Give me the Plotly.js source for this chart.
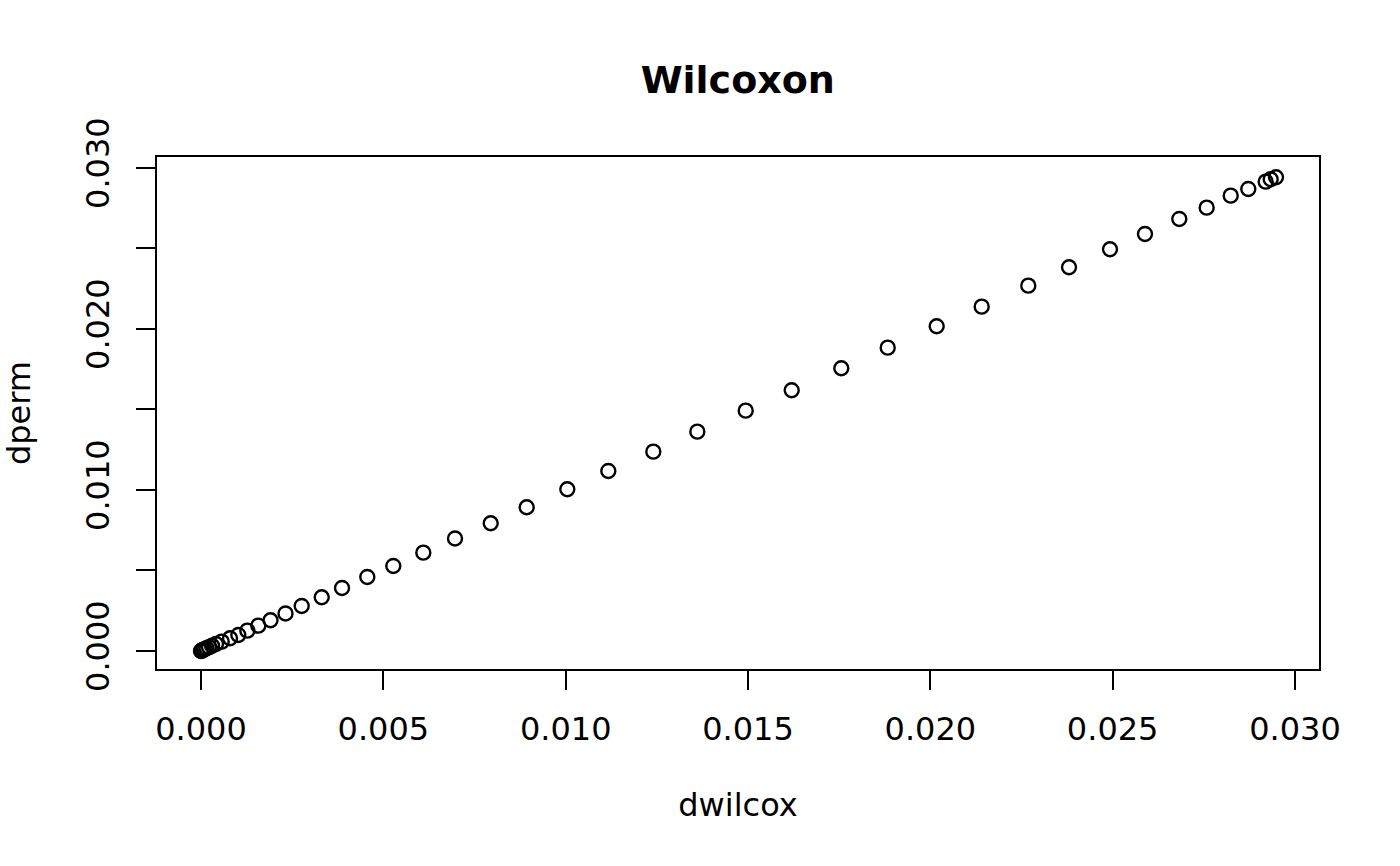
<!DOCTYPE html>
<html>
<head>
<meta charset="utf-8">
<script src="https://cdn.plot.ly/plotly-3.0.1.min.js"></script>
<style>html,body{margin:0;padding:0;background:#fff;}#chart{width:1400px;height:866px;}</style>
</head>
<body>
<div id="chart"></div>
<script>
// dwilcox values (x) and dperm values (y)
var dwilcox = [0, 0.0000137, 0.0000274, 0.0000548, 0.000096, 0.000151, 0.000219, 0.000302, 0.000411,
  0.000568, 0.000795, 0.001023, 0.001270, 0.001571, 0.001906, 0.002317, 0.002761, 0.003310, 0.003867,
  0.004560, 0.005273, 0.006096, 0.006965, 0.007944, 0.008931, 0.010045, 0.011169, 0.012403, 0.013610,
  0.014937, 0.016198, 0.017558, 0.018831, 0.020174, 0.021408, 0.022686, 0.023803, 0.024927, 0.025886,
  0.026827, 0.027578, 0.028237, 0.028719, 0.029196, 0.029333, 0.029479];
var dperm = [0, 0.0000124, 0.0000311, 0.0000621, 0.000106, 0.000168, 0.000236, 0.000323, 0.000435,
  0.000578, 0.000789, 0.000994, 0.001261, 0.001571, 0.001907, 0.002329, 0.002795, 0.003335, 0.003913,
  0.004596, 0.005280, 0.006106, 0.006988, 0.007932, 0.008925, 0.010044, 0.011180, 0.012379, 0.013621,
  0.014925, 0.016193, 0.017559, 0.018839, 0.020168, 0.021385, 0.022690, 0.023832, 0.024950, 0.025901,
  0.026832, 0.027534, 0.028280, 0.028696, 0.029150, 0.029299, 0.029423];

var xTickVals = [0, 0.005, 0.010, 0.015, 0.020, 0.025, 0.030];
var xTickText = ['0.000', '0.005', '0.010', '0.015', '0.020', '0.025', '0.030'];
var yTickVals = [0, 0.005, 0.010, 0.015, 0.020, 0.025, 0.030];
var yTickText = ['0.000', '', '0.010', '', '0.020', '', '0.030'];

var FONT = 'DejaVu Sans, sans-serif';

var trace = {
  x: dwilcox, y: dperm, type: 'scatter', mode: 'markers',
  marker: {symbol: 'circle-open', size: 14, color: '#000', line: {width: 2.4, color: '#000'}},
  hoverinfo: 'x+y'
};

var layout = {
  width: 1400, height: 866,
  paper_bgcolor: '#fff', plot_bgcolor: '#fff',
  margin: {l: 157, r: 81, t: 157, b: 197, pad: 0},
  showlegend: false,
  font: {family: FONT, size: 32, color: '#000'},
  title: {
    text: '<b>Wilcoxon</b>',
    font: {family: FONT, size: 38, color: '#000'},
    x: 0.527, xref: 'container', xanchor: 'center',
    y: 1 - 80 / 866, yref: 'container', yanchor: 'middle'
  },
  xaxis: {
    range: [-0.001207, 0.030658], autorange: false,
    tickmode: 'array', tickvals: xTickVals, ticktext: xTickText,
    ticks: 'outside', ticklen: 19, tickwidth: 2, tickcolor: '#000',
    ticklabelstandoff: 12,
    showline: true, mirror: true, linewidth: 2, linecolor: '#000',
    showgrid: false, zeroline: false,
    tickfont: {family: FONT, size: 32, color: '#000'},
    title: {text: 'dwilcox', font: {family: FONT, size: 32, color: '#000'}, standoff: 46}
  },
  yaxis: {
    range: [-0.00112, 0.03068], autorange: false,
    tickmode: 'array', tickvals: yTickVals, ticktext: yTickText,
    ticks: 'outside', ticklen: 19, tickwidth: 2, tickcolor: '#000',
    tickangle: -90, ticklabelstandoff: 14,
    showline: true, mirror: true, linewidth: 2, linecolor: '#000',
    showgrid: false, zeroline: false,
    tickfont: {family: FONT, size: 32, color: '#000'},
    title: {text: 'dperm', font: {family: FONT, size: 32, color: '#000'}, standoff: 42}
  }
};

Plotly.newPlot('chart', [trace], layout, {displayModeBar: false, staticPlot: true});
</script>
</body>
</html>
